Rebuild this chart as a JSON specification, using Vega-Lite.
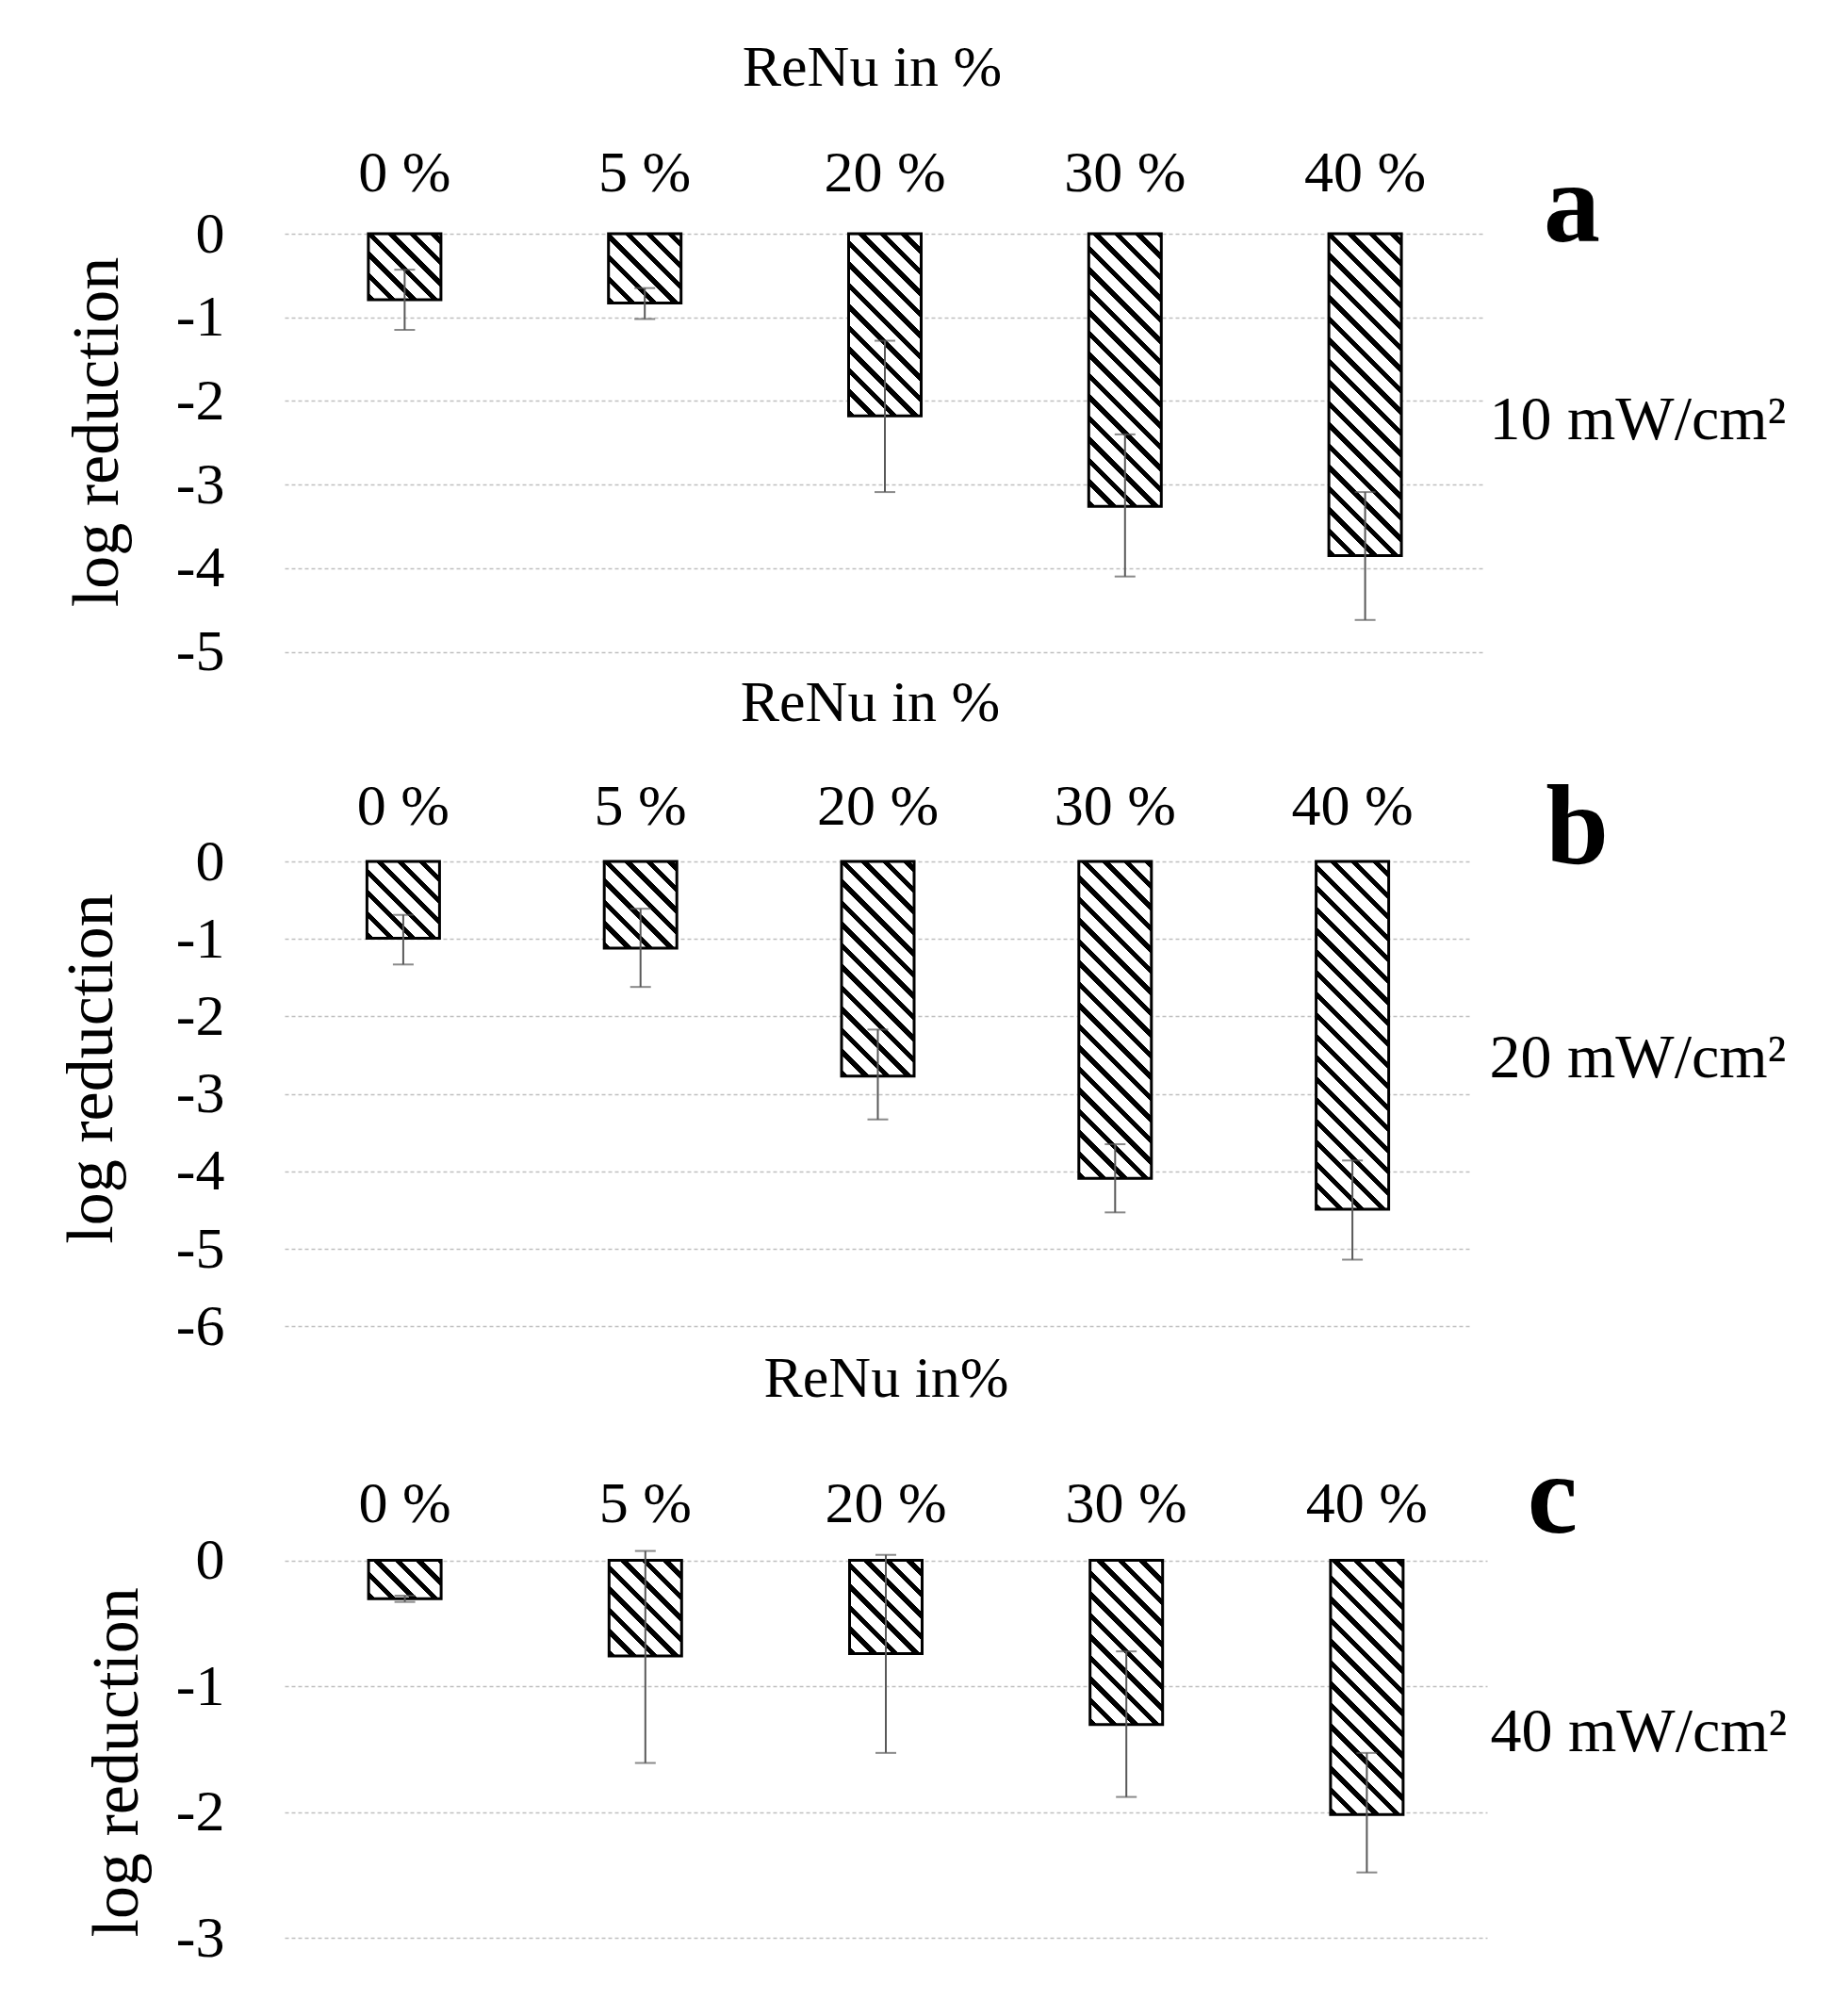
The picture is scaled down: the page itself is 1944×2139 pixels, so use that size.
{
  "$schema": "https://vega.github.io/schema/vega-lite/v6.json",
  "background": "white",
  "padding": {"left": 62, "top": 40, "right": 5, "bottom": 5},
  "params": [
    {
      "name": "hatch",
      "value": [
        {"offset": 0, "color": "#000"}, {"offset": 0.0157, "color": "#000"}, {"offset": 0.0157, "color": "#fff"}, {"offset": 0.0476, "color": "#fff"},
        {"offset": 0.0476, "color": "#000"}, {"offset": 0.0633, "color": "#000"}, {"offset": 0.0633, "color": "#fff"}, {"offset": 0.0952, "color": "#fff"},
        {"offset": 0.0952, "color": "#000"}, {"offset": 0.1109, "color": "#000"}, {"offset": 0.1109, "color": "#fff"}, {"offset": 0.1429, "color": "#fff"},
        {"offset": 0.1429, "color": "#000"}, {"offset": 0.1586, "color": "#000"}, {"offset": 0.1586, "color": "#fff"}, {"offset": 0.1905, "color": "#fff"},
        {"offset": 0.1905, "color": "#000"}, {"offset": 0.2062, "color": "#000"}, {"offset": 0.2062, "color": "#fff"}, {"offset": 0.2381, "color": "#fff"},
        {"offset": 0.2381, "color": "#000"}, {"offset": 0.2538, "color": "#000"}, {"offset": 0.2538, "color": "#fff"}, {"offset": 0.2857, "color": "#fff"},
        {"offset": 0.2857, "color": "#000"}, {"offset": 0.3014, "color": "#000"}, {"offset": 0.3014, "color": "#fff"}, {"offset": 0.3333, "color": "#fff"},
        {"offset": 0.3333, "color": "#000"}, {"offset": 0.349, "color": "#000"}, {"offset": 0.349, "color": "#fff"}, {"offset": 0.381, "color": "#fff"},
        {"offset": 0.381, "color": "#000"}, {"offset": 0.3967, "color": "#000"}, {"offset": 0.3967, "color": "#fff"}, {"offset": 0.4286, "color": "#fff"},
        {"offset": 0.4286, "color": "#000"}, {"offset": 0.4443, "color": "#000"}, {"offset": 0.4443, "color": "#fff"}, {"offset": 0.4762, "color": "#fff"},
        {"offset": 0.4762, "color": "#000"}, {"offset": 0.4919, "color": "#000"}, {"offset": 0.4919, "color": "#fff"}, {"offset": 0.5238, "color": "#fff"},
        {"offset": 0.5238, "color": "#000"}, {"offset": 0.5395, "color": "#000"}, {"offset": 0.5395, "color": "#fff"}, {"offset": 0.5714, "color": "#fff"},
        {"offset": 0.5714, "color": "#000"}, {"offset": 0.5871, "color": "#000"}, {"offset": 0.5871, "color": "#fff"}, {"offset": 0.619, "color": "#fff"},
        {"offset": 0.619, "color": "#000"}, {"offset": 0.6347, "color": "#000"}, {"offset": 0.6347, "color": "#fff"}, {"offset": 0.6667, "color": "#fff"},
        {"offset": 0.6667, "color": "#000"}, {"offset": 0.6824, "color": "#000"}, {"offset": 0.6824, "color": "#fff"}, {"offset": 0.7143, "color": "#fff"},
        {"offset": 0.7143, "color": "#000"}, {"offset": 0.73, "color": "#000"}, {"offset": 0.73, "color": "#fff"}, {"offset": 0.7619, "color": "#fff"},
        {"offset": 0.7619, "color": "#000"}, {"offset": 0.7776, "color": "#000"}, {"offset": 0.7776, "color": "#fff"}, {"offset": 0.8095, "color": "#fff"},
        {"offset": 0.8095, "color": "#000"}, {"offset": 0.8252, "color": "#000"}, {"offset": 0.8252, "color": "#fff"}, {"offset": 0.8571, "color": "#fff"},
        {"offset": 0.8571, "color": "#000"}, {"offset": 0.8728, "color": "#000"}, {"offset": 0.8728, "color": "#fff"}, {"offset": 0.9048, "color": "#fff"},
        {"offset": 0.9048, "color": "#000"}, {"offset": 0.9205, "color": "#000"}, {"offset": 0.9205, "color": "#fff"}, {"offset": 0.9524, "color": "#fff"},
        {"offset": 0.9524, "color": "#000"}, {"offset": 0.9681, "color": "#000"}, {"offset": 0.9681, "color": "#fff"}, {"offset": 1, "color": "#fff"}
      ]
    }
  ],
  "bounds": "flush",
  "spacing": 222,
  "vconcat": [
    {
      "width": 1274,
      "height": 443.5,
      "title": {"text": "a", "align": "right", "dx": 122, "dy": 245},
      "data": {
        "values": [
          {"pct": "0 %", "value": -0.79, "low": -1.15, "high": -0.43},
          {"pct": "5 %", "value": -0.83, "low": -1.02, "high": -0.65},
          {"pct": "20 %", "value": -2.18, "low": -3.09, "high": -1.28},
          {"pct": "30 %", "value": -3.26, "low": -4.1, "high": -2.4},
          {"pct": "40 %", "value": -3.85, "low": -4.62, "high": -3.09}
        ]
      },
      "encoding": {
        "x": {
          "field": "pct",
          "type": "nominal",
          "sort": null,
          "scale": {"paddingInner": 0, "paddingOuter": 0},
          "axis": {
            "orient": "top",
            "title": "ReNu in %",
            "titleFontSize": 62,
            "titleX": 623,
            "titleY": -158,
            "titleAlign": "center",
            "titleBaseline": "alphabetic",
            "labelFontSize": 62,
            "labelAngle": 0,
            "labelBaseline": "alphabetic",
            "labelPadding": 46,
            "grid": false
          }
        }
      },
      "layer": [
        {
          "mark": {
            "type": "bar",
            "width": 77,
            "stroke": "#000",
            "strokeWidth": 3,
            "fill": {"expr": "{gradient: 'linear', x1: 0, y1: 1, x2: 36382.5/(5929+pow(88.7*datum.value,2)), y2: 1+41910.75*datum.value/(5929+pow(88.7*datum.value,2)), stops: hatch}"}
          },
          "encoding": {
            "y": {
              "field": "value",
              "type": "quantitative",
              "scale": {"domain": [-5, 0], "nice": false},
              "axis": {
                "values": [0, -1, -2, -3, -4, -5],
                "labelExpr": "'' + datum.value",
                "labelFontSize": 62,
                "labelPadding": 64,
                "grid": true,
                "gridColor": "#bfbfbf",
                "gridDash": [4, 3],
                "gridWidth": 1.5,
                "title": "log reduction",
                "titleFontSize": 70,
                "titleAngle": 270,
                "titleAlign": "center",
                "titleBaseline": "alphabetic",
                "titleX": -178,
                "titleY": 210
              }
            }
          }
        },
        {
          "mark": {"type": "errorbar", "color": "#595959", "ticks": {"size": 22, "thickness": 2}, "rule": {"strokeWidth": 2}},
          "encoding": {
            "y": {
              "field": "low",
              "type": "quantitative",
              "scale": {"domain": [-5, 0], "nice": false},
              "axis": {
                "orient": "right",
                "labels": false,
                "grid": false,
                "title": "10 mW/cm²",
                "titleFontSize": 66,
                "titleAngle": 0,
                "titleAlign": "left",
                "titleBaseline": "middle",
                "titleX": 4,
                "titleY": 197
              }
            },
            "y2": {"field": "high"}
          }
        }
      ],
      "resolve": {"axis": {"y": "independent"}}
    },
    {
      "width": 1259,
      "height": 493.2,
      "title": {"text": "b", "align": "right", "dx": 146, "dy": 231},
      "data": {
        "values": [
          {"pct": "0 %", "value": -0.99, "low": -1.33, "high": -0.69},
          {"pct": "5 %", "value": -1.12, "low": -1.62, "high": -0.61},
          {"pct": "20 %", "value": -2.77, "low": -3.33, "high": -2.17},
          {"pct": "30 %", "value": -4.09, "low": -4.53, "high": -3.65},
          {"pct": "40 %", "value": -4.49, "low": -5.14, "high": -3.86}
        ]
      },
      "encoding": {
        "x": {
          "field": "pct",
          "type": "nominal",
          "sort": null,
          "scale": {"paddingInner": 0, "paddingOuter": 0},
          "axis": {
            "orient": "top",
            "title": "ReNu in %",
            "titleFontSize": 62,
            "titleX": 621,
            "titleY": -150,
            "titleAlign": "center",
            "titleBaseline": "alphabetic",
            "labelFontSize": 62,
            "labelAngle": 0,
            "labelBaseline": "alphabetic",
            "labelPadding": 40,
            "grid": false
          }
        }
      },
      "layer": [
        {
          "mark": {
            "type": "bar",
            "width": 77,
            "stroke": "#000",
            "strokeWidth": 3,
            "fill": {"expr": "{gradient: 'linear', x1: 0, y1: 1, x2: 36382.5/(5929+pow(82.2*datum.value,2)), y2: 1+38839.5*datum.value/(5929+pow(82.2*datum.value,2)), stops: hatch}"}
          },
          "encoding": {
            "y": {
              "field": "value",
              "type": "quantitative",
              "scale": {"domain": [-6, 0], "nice": false},
              "axis": {
                "values": [0, -1, -2, -3, -4, -5, -6],
                "labelExpr": "'' + datum.value",
                "labelFontSize": 62,
                "labelPadding": 64,
                "grid": true,
                "gridColor": "#bfbfbf",
                "gridDash": [4, 3],
                "gridWidth": 1.5,
                "title": "log reduction",
                "titleFontSize": 70,
                "titleAngle": 270,
                "titleAlign": "center",
                "titleBaseline": "alphabetic",
                "titleX": -184,
                "titleY": 219.5
              }
            }
          }
        },
        {
          "mark": {"type": "errorbar", "color": "#595959", "ticks": {"size": 22, "thickness": 2}, "rule": {"strokeWidth": 2}},
          "encoding": {
            "y": {
              "field": "low",
              "type": "quantitative",
              "scale": {"domain": [-6, 0], "nice": false},
              "axis": {
                "orient": "right",
                "labels": false,
                "grid": false,
                "title": "20 mW/cm²",
                "titleFontSize": 66,
                "titleAngle": 0,
                "titleAlign": "left",
                "titleBaseline": "middle",
                "titleX": 19,
                "titleY": 208.5
              }
            },
            "y2": {"field": "high"}
          }
        }
      ],
      "resolve": {"axis": {"y": "independent"}}
    },
    {
      "width": 1276,
      "height": 426.1,
      "title": {"text": "c", "align": "right", "dx": 96, "dy": 224},
      "data": {
        "values": [
          {"pct": "0 %", "value": -0.305, "low": -0.33, "high": -0.28},
          {"pct": "5 %", "value": -0.76, "low": -1.61, "high": 0.075},
          {"pct": "20 %", "value": -0.74, "low": -1.53, "high": 0.044},
          {"pct": "30 %", "value": -1.305, "low": -1.88, "high": -0.723},
          {"pct": "40 %", "value": -2.02, "low": -2.48, "high": -1.53}
        ]
      },
      "encoding": {
        "x": {
          "field": "pct",
          "type": "nominal",
          "sort": null,
          "scale": {"paddingInner": 0, "paddingOuter": 0},
          "axis": {
            "orient": "top",
            "title": "ReNu in%",
            "titleFontSize": 62,
            "titleX": 638,
            "titleY": -148.7,
            "titleAlign": "center",
            "titleBaseline": "alphabetic",
            "labelFontSize": 62,
            "labelAngle": 0,
            "labelBaseline": "alphabetic",
            "labelPadding": 15.7,
            "grid": false
          }
        }
      },
      "layer": [
        {
          "mark": {
            "type": "bar",
            "width": 77,
            "stroke": "#000",
            "strokeWidth": 3,
            "fill": {"expr": "{gradient: 'linear', x1: 0, y1: 1, x2: 36382.5/(5929+pow(133.5*datum.value,2)), y2: 1+63078.75*datum.value/(5929+pow(133.5*datum.value,2)), stops: hatch}"}
          },
          "encoding": {
            "y": {
              "field": "value",
              "type": "quantitative",
              "scale": {"domain": [-3, 0], "nice": false, "range": [426.1, 25.6]},
              "axis": {
                "values": [0, -1, -2, -3],
                "labelExpr": "'' + datum.value",
                "labelFontSize": 62,
                "labelPadding": 64,
                "grid": true,
                "gridColor": "#bfbfbf",
                "gridDash": [4, 3],
                "gridWidth": 1.5,
                "title": "log reduction",
                "titleFontSize": 70,
                "titleAngle": 270,
                "titleAlign": "center",
                "titleBaseline": "alphabetic",
                "titleX": -157,
                "titleY": 239.3
              }
            }
          }
        },
        {
          "mark": {"type": "errorbar", "color": "#595959", "ticks": {"size": 22, "thickness": 2}, "rule": {"strokeWidth": 2}},
          "encoding": {
            "y": {
              "field": "low",
              "type": "quantitative",
              "scale": {"domain": [-3, 0], "nice": false, "range": [426.1, 25.6]},
              "axis": {
                "orient": "right",
                "labels": false,
                "grid": false,
                "title": "40 mW/cm²",
                "titleFontSize": 66,
                "titleAngle": 0,
                "titleAlign": "left",
                "titleBaseline": "middle",
                "titleX": 3,
                "titleY": 207.3
              }
            },
            "y2": {"field": "high"}
          }
        }
      ],
      "resolve": {"axis": {"y": "independent"}}
    }
  ],
  "config": {
    "view": {"stroke": null},
    "font": "Liberation Serif",
    "axis": {
      "labelFont": "Liberation Serif",
      "titleFont": "Liberation Serif",
      "labelColor": "#000",
      "titleColor": "#000",
      "titleFontWeight": "normal",
      "domain": false,
      "ticks": false,
      "tickSize": 0,
      "labelOverlap": false
    },
    "title": {
      "font": "Liberation Serif",
      "fontWeight": "bold",
      "fontSize": 120,
      "color": "#000",
      "offset": 0,
      "anchor": "end",
      "frame": "group",
      "baseline": "alphabetic"
    }
  }
}
